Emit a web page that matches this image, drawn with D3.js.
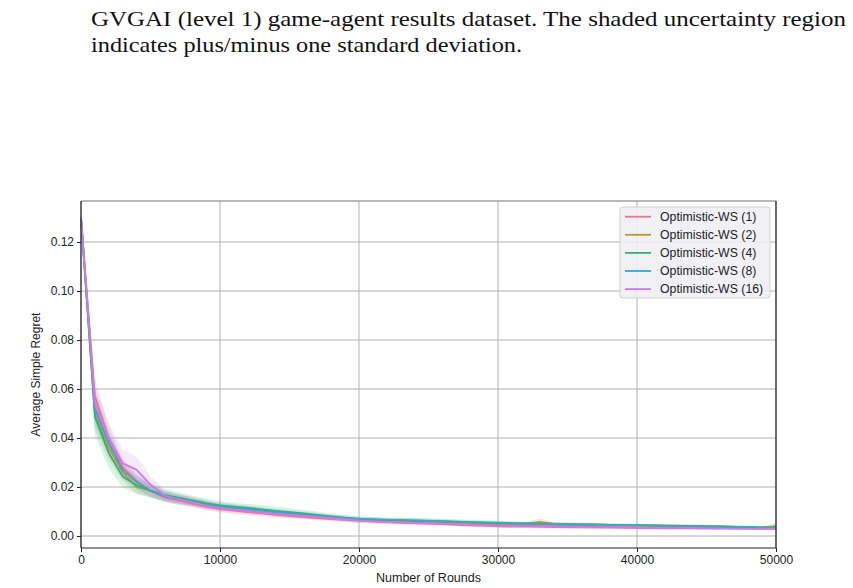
<!DOCTYPE html>
<html><head><meta charset="utf-8">
<script src="https://cdn.jsdelivr.net/npm/d3@7"></script>
<style>body{margin:0;background:#fff}svg{display:block}</style>
</head><body>
<script>
const rounds = [0,1000,2000,3000,4000,5000,6000,7000,8000,9000,10000,12000,14000,16000,18000,20000,22000,24000,26000,28000,30000,32000,33000,34000,36000,38000,40000,42000,44000,46000,48000,49000,50000];
const seriesNames = ["Optimistic-WS (1)","Optimistic-WS (2)","Optimistic-WS (4)","Optimistic-WS (8)","Optimistic-WS (16)"];
const colors = ["#f77189","#ae9d31","#33b07a","#38a9c5","#cc7af4"];
const mean1 = [0.130,0.057,0.040,0.028,0.0225,0.0185,0.0158,0.0145,0.0132,0.0120,0.0110,0.0098,0.0086,0.0077,0.0069,0.0062,0.0057,0.0053,0.0050,0.0046,0.0043,0.0041,0.0041,0.0040,0.0039,0.0037,0.0035,0.0034,0.0033,0.0032,0.0031,0.0030,0.0030];
const mean2 = [0.130,0.050,0.036,0.026,0.0200,0.0185,0.0165,0.0152,0.0140,0.0130,0.0120,0.0108,0.0096,0.0085,0.0075,0.0067,0.0063,0.0060,0.0057,0.0054,0.0050,0.0050,0.0058,0.0050,0.0047,0.0045,0.0043,0.0042,0.0041,0.0039,0.0036,0.0035,0.0040];
const mean4 = [0.130,0.0487,0.0338,0.0242,0.0208,0.0185,0.0168,0.0157,0.0145,0.0134,0.0125,0.0115,0.0102,0.0092,0.0080,0.0070,0.0066,0.0063,0.0060,0.0056,0.0052,0.0050,0.0050,0.0048,0.0047,0.0045,0.0043,0.0041,0.0040,0.0038,0.0036,0.0034,0.0034];
const mean8 = [0.130,0.052,0.038,0.027,0.0220,0.0185,0.0162,0.0150,0.0140,0.0128,0.0120,0.0110,0.0098,0.0088,0.0077,0.0069,0.0066,0.0064,0.0061,0.0057,0.0054,0.0051,0.0050,0.0048,0.0047,0.0045,0.0044,0.0042,0.0040,0.0038,0.0036,0.0034,0.0034];
const mean16 = [0.130,0.054,0.040,0.0297,0.0270,0.0210,0.0165,0.0150,0.0137,0.0124,0.0114,0.0102,0.0090,0.0082,0.0073,0.0063,0.0057,0.0053,0.0049,0.0043,0.0039,0.0038,0.0037,0.0036,0.0035,0.0034,0.0032,0.0031,0.0031,0.0030,0.0029,0.0029,0.0029];
const std1 = [0,0.007,0.005,0.0035,0.003,0.0025,0.002,0.0018,0.0016,0.0015,0.0014,0.0012,0.0011,0.0010,0.0009,0.0009,0.0008,0.0008,0.0007,0.0007,0.0006,0.0006,0.0006,0.0006,0.0005,0.0005,0.0005,0.0005,0.0005,0.0005,0.0005,0.0005,0.0005];
const std2 = [0,0.007,0.005,0.0035,0.003,0.0025,0.002,0.0018,0.0017,0.0016,0.0015,0.0013,0.0012,0.0011,0.0010,0.0009,0.0009,0.0008,0.0008,0.0007,0.0007,0.0007,0.0013,0.0007,0.0006,0.0006,0.0006,0.0006,0.0006,0.0006,0.0006,0.0006,0.0013];
const std4 = [0,0.008,0.006,0.0045,0.0035,0.003,0.0025,0.0022,0.0020,0.0019,0.0018,0.0016,0.0018,0.0015,0.0012,0.0010,0.0009,0.0009,0.0008,0.0008,0.0008,0.0007,0.0007,0.0007,0.0006,0.0006,0.0006,0.0006,0.0006,0.0006,0.0006,0.0006,0.0006];
const std8 = [0,0.007,0.005,0.0035,0.003,0.0025,0.0021,0.0020,0.0019,0.0018,0.0016,0.0014,0.0013,0.0012,0.0011,0.0010,0.0010,0.0009,0.0009,0.0008,0.0008,0.0007,0.0007,0.0007,0.0007,0.0006,0.0006,0.0006,0.0006,0.0006,0.0006,0.0006,0.0006];
const std16 = [0,0.007,0.006,0.0055,0.0055,0.0035,0.0022,0.0020,0.0018,0.0016,0.0015,0.0013,0.0012,0.0011,0.0010,0.0009,0.0008,0.0008,0.0007,0.0007,0.0006,0.0006,0.0006,0.0006,0.0006,0.0005,0.0005,0.0005,0.0005,0.0005,0.0005,0.0005,0.0005];
const xTicks = [0,10000,20000,30000,40000,50000];
const yTicks = [0,0.02,0.04,0.06,0.08,0.10,0.12];
const captionLines = ["GVGAI (level 1) game-agent results dataset.  The shaded uncertainty region","indicates plus/minus one standard deviation."];

const means = [mean1,mean2,mean4,mean8,mean16];
const stds = [std1,std2,std4,std8,std16];

const W = 853, H = 588;
const L = 81, R = 776, T = 201, B = 548;
const svg = d3.select("body").append("svg").attr("width",W).attr("height",H);

// caption
const cap = svg.append("g").attr("font-family","'Liberation Serif','DejaVu Serif',serif").attr("fill","#111");
cap.append("text").attr("x",91).attr("y",26).attr("font-size",21).attr("textLength",755).attr("lengthAdjust","spacingAndGlyphs").text(captionLines[0]);
cap.append("text").attr("x",91).attr("y",52).attr("font-size",21).attr("textLength",431).attr("lengthAdjust","spacingAndGlyphs").text(captionLines[1]);

const x = d3.scaleLinear().domain([0,50000]).range([L,R]);
const y = d3.scaleLinear().domain([0,0.12]).range([536,242]);

// grid
const g = svg.append("g");
g.selectAll("line.vg").data(xTicks).join("line").attr("x1",d=>x(d)).attr("x2",d=>x(d)).attr("y1",T).attr("y2",B).attr("stroke","#b0b0b0").attr("stroke-width",1);
g.selectAll("line.hg").data(yTicks).join("line").attr("x1",L).attr("x2",R).attr("y1",d=>y(d)).attr("y2",d=>y(d)).attr("stroke","#b0b0b0").attr("stroke-width",1);

const plot = svg.append("g");
means.forEach((m,i)=>{
  const pts = rounds.map((r,k)=>({r, m:m[k], s:stds[i][k]}));
  plot.append("path").datum(pts)
    .attr("d", d3.area().x(d=>x(d.r)).y0(d=>y(d.m-d.s)).y1(d=>y(d.m+d.s)))
    .attr("fill",colors[i]).attr("opacity",0.18);
});
means.forEach((m,i)=>{
  const pts = rounds.map((r,k)=>({r, m:m[k]}));
  plot.append("path").datum(pts)
    .attr("d", d3.line().x(d=>x(d.r)).y(d=>y(d.m)))
    .attr("fill","none").attr("stroke",colors[i]).attr("stroke-width",1.8);
});

// axes
const fontAx = "'Liberation Sans',Arial,sans-serif";
const xa = svg.append("g").attr("transform",`translate(0,${B})`).call(d3.axisBottom(x).tickValues(xTicks).tickFormat(d3.format("d")).tickSize(4).tickPadding(3));
const ya = svg.append("g").attr("transform",`translate(${L},0)`).call(d3.axisLeft(y).tickValues(yTicks).tickFormat(d3.format(".2f")).tickSize(4).tickPadding(3));
[xa,ya].forEach(a=>{a.select(".domain").remove();a.selectAll("text").attr("font-family",fontAx).attr("font-size",12).attr("fill","#222");a.selectAll("line").attr("stroke","#222");});

// spines
svg.append("line").attr("x1",L).attr("x2",R).attr("y1",T).attr("y2",T).attr("stroke","#777").attr("stroke-width",1.2);
svg.append("line").attr("x1",R).attr("x2",R).attr("y1",T).attr("y2",B).attr("stroke","#222").attr("stroke-width",1.2);
svg.append("line").attr("x1",L).attr("x2",L).attr("y1",T).attr("y2",B).attr("stroke","#222").attr("stroke-width",1.2);
svg.append("line").attr("x1",L).attr("x2",R).attr("y1",B).attr("y2",B).attr("stroke","#222").attr("stroke-width",1.2);

svg.append("text").attr("x",(L+R)/2).attr("y",582).attr("text-anchor","middle").attr("font-family",fontAx).attr("font-size",12.5).attr("fill","#222").text("Number of Rounds");
svg.append("text").attr("transform",`translate(40,${(T+B)/2}) rotate(-90)`).attr("text-anchor","middle").attr("font-family",fontAx).attr("font-size",12).attr("fill","#222").text("Average Simple Regret");

// legend
const lg = svg.append("g");
lg.append("rect").attr("x",620).attr("y",207).attr("width",150).attr("height",91).attr("rx",3).attr("fill","#efeff4").attr("fill-opacity",0.9).attr("stroke","#d0d0d0");
seriesNames.forEach((n,i)=>{
  const yy = 216.7 + i*18.1;
  lg.append("line").attr("x1",625).attr("x2",651).attr("y1",yy).attr("y2",yy).attr("stroke",colors[i]).attr("stroke-width",1.8);
  lg.append("text").attr("x",660).attr("y",yy+4.3).attr("font-family",fontAx).attr("font-size",12.3).attr("fill","#222").text(n);
});
</script>
</body></html>
